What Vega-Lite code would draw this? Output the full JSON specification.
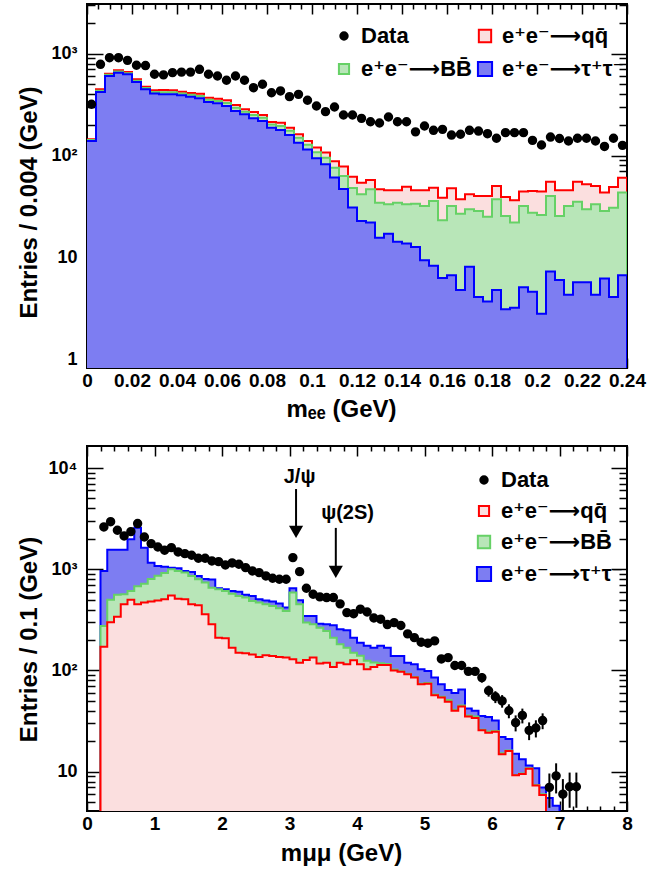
{
"$schema": "https://vega.github.io/schema/vega-lite/v6.json",
"background": "white",
"autosize": {"type": "pad"},
"padding": {"left": 16, "top": 2, "right": 0, "bottom": 0},
"bounds": "flush",
"spacing": 78,
"config": {
  "view": {"stroke": "black", "strokeWidth": 2},
  "axis": {"zindex": 1, "domain": false, "grid": false, "tickColor": "black", "tickWidth": 1.5, "labelFont": "Liberation Sans", "labelFontWeight": "bold", "labelColor": "black", "titleFont": "Liberation Sans", "titleFontWeight": "bold", "titleFontSize": 24, "titleColor": "black", "labelOverlap": false, "labelFlush": false, "labelBound": false},
  "legend": {"labelFont": "Liberation Sans, DejaVu Sans", "labelFontWeight": "bold", "labelFontSize": 22, "labelColor": "black", "labelLimit": 400}
},
"datasets": {
  "top_hist": [
    {"lo":0,"tau":139,"tau_bb":142,"all":145},
    {"lo":0.004,"tau":421,"tau_bb":433,"all":447},
    {"lo":0.008,"tau":604,"tau_bb":620,"all":637},
    {"lo":0.012,"tau":652,"tau_bb":669,"all":687},
    {"lo":0.016,"tau":628,"tau_bb":644,"all":661},
    {"lo":0.02,"tau":527,"tau_bb":543,"all":561},
    {"lo":0.024,"tau":447,"tau_bb":460,"all":474},
    {"lo":0.028,"tau":408,"tau_bb":422,"all":437},
    {"lo":0.032,"tau":399,"tau_bb":419,"all":440},
    {"lo":0.036,"tau":399,"tau_bb":418,"all":437},
    {"lo":0.04,"tau":391,"tau_bb":407,"all":424},
    {"lo":0.044,"tau":379,"tau_bb":395,"all":411},
    {"lo":0.048,"tau":365,"tau_bb":385,"all":405},
    {"lo":0.052,"tau":336,"tau_bb":353,"all":370},
    {"lo":0.056,"tau":326,"tau_bb":344,"all":362},
    {"lo":0.06,"tau":307,"tau_bb":328,"all":349},
    {"lo":0.064,"tau":274,"tau_bb":294,"all":314},
    {"lo":0.068,"tau":254,"tau_bb":270,"all":285},
    {"lo":0.072,"tau":232,"tau_bb":250,"all":268},
    {"lo":0.076,"tau":219,"tau_bb":235,"all":250},
    {"lo":0.08,"tau":188,"tau_bb":202,"all":214},
    {"lo":0.084,"tau":178,"tau_bb":195,"all":210},
    {"lo":0.088,"tau":159,"tau_bb":175,"all":188},
    {"lo":0.092,"tau":134,"tau_bb":150,"all":162},
    {"lo":0.096,"tau":115,"tau_bb":128,"all":139},
    {"lo":0.1,"tau":94,"tau_bb":108,"all":120},
    {"lo":0.104,"tau":82,"tau_bb":95,"all":107},
    {"lo":0.108,"tau":61,"tau_bb":76,"all":88},
    {"lo":0.112,"tau":47,"tau_bb":63,"all":78},
    {"lo":0.116,"tau":31,"tau_bb":48,"all":62},
    {"lo":0.12,"tau":22.8,"tau_bb":41.7,"all":54.2},
    {"lo":0.124,"tau":22,"tau_bb":46.7,"all":57.6},
    {"lo":0.128,"tau":15.6,"tau_bb":34.5,"all":46.7},
    {"lo":0.132,"tau":17.1,"tau_bb":33.3,"all":45.6},
    {"lo":0.136,"tau":14.3,"tau_bb":34.5,"all":45.6},
    {"lo":0.14,"tau":13.7,"tau_bb":33.3,"all":49.5},
    {"lo":0.144,"tau":12.7,"tau_bb":33.7,"all":45.6},
    {"lo":0.148,"tau":9.4,"tau_bb":32,"all":45.6},
    {"lo":0.152,"tau":8.3,"tau_bb":35.8,"all":48.4},
    {"lo":0.156,"tau":6.3,"tau_bb":23.2,"all":38.6},
    {"lo":0.16,"tau":6.7,"tau_bb":32,"all":47.7},
    {"lo":0.164,"tau":4.8,"tau_bb":26.9,"all":37.2},
    {"lo":0.168,"tau":8.1,"tau_bb":29.7,"all":41.7},
    {"lo":0.172,"tau":4.1,"tau_bb":28.6,"all":40.2},
    {"lo":0.176,"tau":3.7,"tau_bb":25.1,"all":40.2},
    {"lo":0.18,"tau":4.8,"tau_bb":37.2,"all":50.4},
    {"lo":0.184,"tau":3.1,"tau_bb":25.5,"all":39.3},
    {"lo":0.188,"tau":3.2,"tau_bb":22,"all":36.4},
    {"lo":0.192,"tau":5.1,"tau_bb":32,"all":44.3},
    {"lo":0.196,"tau":4.6,"tau_bb":27.5,"all":45},
    {"lo":0.2,"tau":2.8,"tau_bb":26.1,"all":44.3},
    {"lo":0.204,"tau":7.3,"tau_bb":40.2,"all":55.5},
    {"lo":0.208,"tau":6,"tau_bb":25.5,"all":45.6},
    {"lo":0.212,"tau":4.3,"tau_bb":32,"all":45.6},
    {"lo":0.216,"tau":5.7,"tau_bb":35.3,"all":55.5},
    {"lo":0.22,"tau":5.7,"tau_bb":29.7,"all":52.2},
    {"lo":0.224,"tau":4.3,"tau_bb":33.3,"all":50.4},
    {"lo":0.228,"tau":6.2,"tau_bb":28.6,"all":43.3},
    {"lo":0.232,"tau":4.1,"tau_bb":30.8,"all":49.2},
    {"lo":0.236,"tau":6.7,"tau_bb":43.3,"all":60.7},
    {"lo":0.24,"tau":0.5,"tau_bb":0.5,"all":0.5}
  ],
  "top_pts": [
    {"m":0.002,"n":319},{"m":0.006,"n":787},{"m":0.01,"n":914},{"m":0.014,"n":914},{"m":0.018,"n":861},
    {"m":0.022,"n":770},{"m":0.026,"n":765},{"m":0.03,"n":628},{"m":0.034,"n":620},{"m":0.038,"n":652},
    {"m":0.042,"n":660},{"m":0.046,"n":660},{"m":0.05,"n":703},{"m":0.054,"n":628},{"m":0.058,"n":604},
    {"m":0.062,"n":549},{"m":0.066,"n":604},{"m":0.07,"n":549},{"m":0.074,"n":464},{"m":0.078,"n":501},
    {"m":0.082,"n":414},{"m":0.086,"n":431},{"m":0.09,"n":379},{"m":0.094,"n":399},{"m":0.098,"n":349},
    {"m":0.102,"n":307},{"m":0.106,"n":270},{"m":0.11,"n":300},{"m":0.114,"n":250},{"m":0.118,"n":250},
    {"m":0.122,"n":232},{"m":0.126,"n":215},{"m":0.13,"n":209},{"m":0.134,"n":239},{"m":0.138,"n":215},
    {"m":0.142,"n":215},{"m":0.146,"n":171},{"m":0.15,"n":195},{"m":0.154,"n":177},{"m":0.158,"n":181},
    {"m":0.162,"n":159},{"m":0.166,"n":162},{"m":0.17,"n":177},{"m":0.174,"n":174},{"m":0.178,"n":164},
    {"m":0.182,"n":148},{"m":0.186,"n":168},{"m":0.19,"n":168},{"m":0.194,"n":168},{"m":0.198,"n":141},
    {"m":0.202,"n":127},{"m":0.206,"n":152},{"m":0.21,"n":147},{"m":0.214,"n":139},{"m":0.218,"n":148},
    {"m":0.222,"n":148},{"m":0.226,"n":139},{"m":0.23,"n":123},{"m":0.234,"n":148},{"m":0.238,"n":126}
  ],
  "bot_hist": [
    {"lo":0.1,"qq":0.5,"qq_bb":0.5,"all":0.5},
    {"lo":0.2,"qq":172,"qq_bb":275,"all":962},
    {"lo":0.3,"qq":300,"qq_bb":500,"all":1560},
    {"lo":0.4,"qq":340,"qq_bb":560,"all":1560},
    {"lo":0.5,"qq":450,"qq_bb":565,"all":1560},
    {"lo":0.6,"qq":500,"qq_bb":610,"all":1980},
    {"lo":0.7,"qq":450,"qq_bb":680,"all":2576},
    {"lo":0.8,"qq":468,"qq_bb":720,"all":1634},
    {"lo":0.9,"qq":480,"qq_bb":800,"all":1162},
    {"lo":1.0,"qq":490,"qq_bb":860,"all":1078},
    {"lo":1.1,"qq":506,"qq_bb":920,"all":1060},
    {"lo":1.2,"qq":550,"qq_bb":1000,"all":1037},
    {"lo":1.3,"qq":512,"qq_bb":962,"all":1020},
    {"lo":1.4,"qq":505,"qq_bb":926,"all":962},
    {"lo":1.5,"qq":451,"qq_bb":859,"all":940},
    {"lo":1.6,"qq":440,"qq_bb":796,"all":859},
    {"lo":1.7,"qq":359,"qq_bb":738,"all":800},
    {"lo":1.8,"qq":286,"qq_bb":658,"all":790},
    {"lo":1.9,"qq":211,"qq_bb":634,"all":650},
    {"lo":2.0,"qq":208,"qq_bb":610,"all":634},
    {"lo":2.1,"qq":168,"qq_bb":574,"all":610},
    {"lo":2.2,"qq":150,"qq_bb":545,"all":600},
    {"lo":2.3,"qq":148,"qq_bb":525,"all":560},
    {"lo":2.4,"qq":144,"qq_bb":486,"all":545},
    {"lo":2.5,"qq":136,"qq_bb":468,"all":506},
    {"lo":2.6,"qq":141,"qq_bb":451,"all":490},
    {"lo":2.7,"qq":139,"qq_bb":434,"all":480},
    {"lo":2.8,"qq":136,"qq_bb":412,"all":460},
    {"lo":2.9,"qq":134,"qq_bb":387,"all":420},
    {"lo":3.0,"qq":129,"qq_bb":588,"all":649},
    {"lo":3.1,"qq":119,"qq_bb":451,"all":494},
    {"lo":3.2,"qq":127,"qq_bb":297,"all":346},
    {"lo":3.3,"qq":134,"qq_bb":286,"all":346},
    {"lo":3.4,"qq":117,"qq_bb":265,"all":290},
    {"lo":3.5,"qq":119,"qq_bb":245,"all":286},
    {"lo":3.6,"qq":108,"qq_bb":211,"all":280},
    {"lo":3.7,"qq":119,"qq_bb":182,"all":255},
    {"lo":3.8,"qq":115,"qq_bb":168,"all":250},
    {"lo":3.9,"qq":126,"qq_bb":150,"all":211},
    {"lo":4.0,"qq":115,"qq_bb":140,"all":188},
    {"lo":4.1,"qq":103,"qq_bb":125,"all":175},
    {"lo":4.2,"qq":108,"qq_bb":120,"all":168},
    {"lo":4.3,"qq":113,"qq_bb":118,"all":175},
    {"lo":4.4,"qq":113,"qq_bb":116,"all":168},
    {"lo":4.5,"qq":100,"qq_bb":102,"all":139},
    {"lo":4.6,"qq":97,"qq_bb":98,"all":139},
    {"lo":4.7,"qq":92,"qq_bb":93,"all":119},
    {"lo":4.8,"qq":85,"qq_bb":86,"all":115},
    {"lo":4.9,"qq":73,"qq_bb":74,"all":103},
    {"lo":5.0,"qq":74,"qq_bb":75,"all":99},
    {"lo":5.1,"qq":57,"qq_bb":58,"all":85},
    {"lo":5.2,"qq":54,"qq_bb":55,"all":73},
    {"lo":5.3,"qq":49,"qq_bb":51,"all":64},
    {"lo":5.4,"qq":40,"qq_bb":41,"all":60},
    {"lo":5.5,"qq":44,"qq_bb":45,"all":65},
    {"lo":5.6,"qq":35,"qq_bb":36,"all":42},
    {"lo":5.7,"qq":34,"qq_bb":35,"all":40},
    {"lo":5.8,"qq":25.6,"qq_bb":26,"all":35.5},
    {"lo":5.9,"qq":24.3,"qq_bb":25,"all":34.7},
    {"lo":6.0,"qq":24.8,"qq_bb":25.2,"all":32},
    {"lo":6.1,"qq":14.9,"qq_bb":15.2,"all":22},
    {"lo":6.2,"qq":16,"qq_bb":16.2,"all":21},
    {"lo":6.3,"qq":9.2,"qq_bb":9.3,"all":15},
    {"lo":6.4,"qq":9.5,"qq_bb":9.6,"all":13.3},
    {"lo":6.5,"qq":10.7,"qq_bb":10.8,"all":11.5},
    {"lo":6.6,"qq":7.3,"qq_bb":7.4,"all":10.8},
    {"lo":6.7,"qq":5.9,"qq_bb":6,"all":7},
    {"lo":6.8,"qq":0.5,"qq_bb":0.5,"all":5.5},
    {"lo":6.9,"qq":0.5,"qq_bb":0.5,"all":4.6},
    {"lo":7.0,"qq":0.5,"qq_bb":0.5,"all":0.5}
  ],
  "bot_pts": [
    {"m":0.25,"n":2618},{"m":0.35,"n":2951},{"m":0.45,"n":2427},{"m":0.55,"n":2133},{"m":0.65,"n":2355},
    {"m":0.75,"n":2827},{"m":0.85,"n":2084},{"m":0.95,"n":1791},{"m":1.05,"n":1660},{"m":1.15,"n":1541},
    {"m":1.25,"n":1636},{"m":1.35,"n":1483},{"m":1.45,"n":1426},{"m":1.55,"n":1374},{"m":1.65,"n":1284},
    {"m":1.75,"n":1284},{"m":1.85,"n":1208},{"m":1.95,"n":1189},{"m":2.05,"n":1102},{"m":2.15,"n":1154},
    {"m":2.25,"n":1120},{"m":2.35,"n":1037},{"m":2.45,"n":962},{"m":2.55,"n":926},{"m":2.65,"n":859},
    {"m":2.75,"n":815},{"m":2.85,"n":796},{"m":2.95,"n":796},{"m":3.05,"n":1303},{"m":3.15,"n":947},
    {"m":3.25,"n":649},{"m":3.35,"n":566},{"m":3.45,"n":533},{"m":3.55,"n":525},{"m":3.65,"n":525},
    {"m":3.75,"n":455},{"m":3.85,"n":373},{"m":3.95,"n":364},{"m":4.05,"n":403},{"m":4.15,"n":378},
    {"m":4.25,"n":330},{"m":4.35,"n":321},{"m":4.45,"n":284},{"m":4.55,"n":297},{"m":4.65,"n":278},
    {"m":4.75,"n":230},{"m":4.85,"n":211},{"m":4.95,"n":190},{"m":5.05,"n":186},{"m":5.15,"n":196},
    {"m":5.25,"n":130},{"m":5.35,"n":134},{"m":5.45,"n":112},{"m":5.55,"n":112},{"m":5.65,"n":98},
    {"m":5.75,"n":98},
    {"m":5.85,"n":85,"lo":75.8,"hi":94.2},
    {"m":5.95,"n":63,"lo":55.1,"hi":70.9},
    {"m":6.05,"n":55,"lo":47.6,"hi":62.4},
    {"m":6.15,"n":50,"lo":42.9,"hi":57.1},
    {"m":6.25,"n":40,"lo":33.7,"hi":46.3},
    {"m":6.35,"n":30.5,"lo":25,"hi":36},
    {"m":6.45,"n":36,"lo":30,"hi":42},
    {"m":6.55,"n":25.6,"lo":20.5,"hi":30.7},
    {"m":6.65,"n":27,"lo":21.8,"hi":32.2},
    {"m":6.75,"n":32,"lo":26.3,"hi":37.7},
    {"m":6.85,"n":7,"lo":4.4,"hi":9.6},
    {"m":6.95,"n":9.1,"lo":6.1,"hi":12.1},
    {"m":7.05,"n":6,"lo":3.55,"hi":8.45},
    {"m":7.15,"n":7.1,"lo":4.4,"hi":9.8},
    {"m":7.25,"n":7.1,"lo":4.4,"hi":9.8}
  ],
  "annot": [
    {"label":"J/ψ","x":3.097,"ytop":6200,"ytri":2340,"tx":3.15,"ty":8200},
    {"label":"ψ(2S)","x":3.686,"ytop":2560,"ytri":940,"tx":3.86,"ty":3600}
  ]
},
"resolve": {"scale": {"x": "independent", "y": "independent", "fill": "independent", "stroke": "independent", "shape": "independent", "size": "independent"}, "legend": {"fill": "independent", "stroke": "independent", "shape": "independent", "size": "independent"}, "axis": {"x": "independent", "y": "independent"}},
"vconcat": [
{
  "width": 540, "height": 364,
  "resolve": {"axis": {"x": "independent", "y": "independent"}},
  "layer": [
  {"layer": [
    {"data": {"name": "top_hist"}, "mark": {"type": "area", "interpolate": "step-after", "fill": "#fbdfdf", "clip": true},
     "encoding": {
       "x": {"field": "lo", "type": "quantitative", "scale": {"domain": [0, 0.24], "nice": false, "zero": false},
         "axis": {"orient": "bottom", "labelOverlap": false,
           "values": [0,0.02,0.04,0.06,0.08,0.1,0.12,0.14,0.16,0.18,0.2,0.22,0.24],
           "labelExpr": "format(datum.value, '~g')",
           "labelFontSize": 19, "tickSize": -10, "labelPadding": 13,
           "title": "mₑₑ (GeV)", "titleX": 254, "titleY": 48, "titleAlign": "center", "titleBaseline": "alphabetic"}},
       "y": {"field": "all", "type": "quantitative", "scale": {"type": "log", "domain": [0.822, 3076], "nice": false},
         "axis": {"orient": "left", "labelOverlap": false,
           "values": [1,10,100,1000],
           "labelExpr": "datum.value === 1 ? '1' : datum.value === 10 ? '10' : datum.value === 100 ? '10²' : '10³'",
           "labelFontSize": 18, "tickSize": -16, "labelPadding": 26,
           "title": "Entries / 0.004 (GeV)", "titleX": -50.5, "titleY": 198, "titleAngle": -90, "titleAlign": "center", "titleBaseline": "alphabetic"}},
       "y2": {"datum": 0.822}
     }},
    {"data": {"name": "top_hist"}, "mark": {"type": "line", "interpolate": "step-after", "stroke": "#ff0000", "strokeWidth": 2, "clip": true},
     "encoding": {"x": {"field": "lo", "type": "quantitative", "scale": {"domain": [0, 0.24], "nice": false, "zero": false}},
                  "y": {"field": "all", "type": "quantitative", "scale": {"type": "log", "domain": [0.822, 3076], "nice": false}}}},
    {"data": {"name": "top_hist"}, "mark": {"type": "area", "interpolate": "step-after", "fill": "#b8e6b8", "clip": true},
     "encoding": {"x": {"field": "lo", "type": "quantitative", "scale": {"domain": [0, 0.24], "nice": false, "zero": false}},
                  "y": {"field": "tau_bb", "type": "quantitative", "scale": {"type": "log", "domain": [0.822, 3076], "nice": false}},
                  "y2": {"datum": 0.822}}},
    {"data": {"name": "top_hist"}, "mark": {"type": "line", "interpolate": "step-after", "stroke": "#66d166", "strokeWidth": 2, "clip": true},
     "encoding": {"x": {"field": "lo", "type": "quantitative", "scale": {"domain": [0, 0.24], "nice": false, "zero": false}},
                  "y": {"field": "tau_bb", "type": "quantitative", "scale": {"type": "log", "domain": [0.822, 3076], "nice": false}}}},
    {"data": {"name": "top_hist"}, "mark": {"type": "area", "interpolate": "step-after", "fill": "#7d7df2", "clip": true},
     "encoding": {"x": {"field": "lo", "type": "quantitative", "scale": {"domain": [0, 0.24], "nice": false, "zero": false}},
                  "y": {"field": "tau", "type": "quantitative", "scale": {"type": "log", "domain": [0.822, 3076], "nice": false}},
                  "y2": {"datum": 0.822}}},
    {"data": {"name": "top_hist"}, "mark": {"type": "line", "interpolate": "step-after", "stroke": "#0000ff", "strokeWidth": 2, "clip": true},
     "encoding": {"x": {"field": "lo", "type": "quantitative", "scale": {"domain": [0, 0.24], "nice": false, "zero": false}},
                  "y": {"field": "tau", "type": "quantitative", "scale": {"type": "log", "domain": [0.822, 3076], "nice": false}}}},
    {"data": {"name": "top_pts"}, "mark": {"type": "point", "filled": true, "opacity": 1, "strokeWidth": 2},
     "encoding": {"x": {"field": "m", "type": "quantitative", "scale": {"domain": [0, 0.24], "nice": false, "zero": false}},
                  "y": {"field": "n", "type": "quantitative", "scale": {"type": "log", "domain": [0.822, 3076], "nice": false}},
                  "fill": {"datum": "Data", "type": "nominal",
                    "scale": {"domain": ["Data", "e⁺e⁻⟶BB̄", "e⁺e⁻⟶qq̄", "e⁺e⁻⟶τ⁺τ⁻"], "range": ["#000000", "#b8e6b8", "#fbdfdf", "#7d7df2"]},
                    "legend": {"title": null, "orient": "none", "legendX": 246, "legendY": 21, "columns": 2, "columnPadding": 0, "rowPadding": 10, "symbolStrokeWidth": 2, "labelOffset": 6, "padding": 0}},
                  "stroke": {"datum": "Data", "type": "nominal",
                    "scale": {"domain": ["Data", "e⁺e⁻⟶BB̄", "e⁺e⁻⟶qq̄", "e⁺e⁻⟶τ⁺τ⁻"], "range": ["#000000", "#66d166", "#ff0000", "#0000ff"]},
                    "legend": {"title": null, "orient": "none", "legendX": 246, "legendY": 21, "columns": 2, "columnPadding": 0, "rowPadding": 10, "symbolStrokeWidth": 2, "labelOffset": 6, "padding": 0}},
                  "shape": {"datum": "Data", "type": "nominal",
                    "scale": {"domain": ["Data", "e⁺e⁻⟶BB̄", "e⁺e⁻⟶qq̄", "e⁺e⁻⟶τ⁺τ⁻"], "range": ["circle", "square", "square", "square"]},
                    "legend": {"title": null, "orient": "none", "legendX": 246, "legendY": 21, "columns": 2, "columnPadding": 0, "rowPadding": 10, "symbolStrokeWidth": 2, "labelOffset": 6, "padding": 0}},
                  "size": {"datum": "Data", "type": "nominal",
                    "scale": {"domain": ["Data", "e⁺e⁻⟶BB̄", "e⁺e⁻⟶qq̄", "e⁺e⁻⟶τ⁺τ⁻"], "range": [55, 200, 200, 200]},
                    "legend": {"title": null, "orient": "none", "legendX": 246, "legendY": 21, "columns": 2, "columnPadding": 0, "rowPadding": 10, "symbolStrokeWidth": 2, "labelOffset": 6, "padding": 0}}}}
  ]},
  {"data": {"name": "top_pts"}, "mark": {"type": "point", "opacity": 0},
   "encoding": {
     "x": {"field": "m", "type": "quantitative", "scale": {"domain": [0, 0.24], "nice": false, "zero": false},
       "axis": {"orient": "top", "labels": false, "title": null, "tickSize": -10,
         "values": [0,0.02,0.04,0.06,0.08,0.1,0.12,0.14,0.16,0.18,0.2,0.22,0.24]}},
     "y": {"field": "n", "type": "quantitative", "scale": {"type": "log", "domain": [0.822, 3076], "nice": false},
       "axis": {"orient": "right", "labels": false, "title": null, "tickSize": -16, "values": [1,10,100,1000]}}
   }},
  {"data": {"name": "top_pts"}, "mark": {"type": "point", "opacity": 0},
   "encoding": {
     "x": {"field": "m", "type": "quantitative", "scale": {"domain": [0, 0.24], "nice": false, "zero": false},
       "axis": {"orient": "bottom", "labels": false, "title": null, "tickSize": -5,
         "values": [0.005,0.01,0.015,0.025,0.03,0.035,0.045,0.05,0.055,0.065,0.07,0.075,0.085,0.09,0.095,0.105,0.11,0.115,0.125,0.13,0.135,0.145,0.15,0.155,0.165,0.17,0.175,0.185,0.19,0.195,0.205,0.21,0.215,0.225,0.23,0.235]}},
     "y": {"field": "n", "type": "quantitative", "scale": {"type": "log", "domain": [0.822, 3076], "nice": false},
       "axis": {"orient": "left", "labels": false, "title": null, "tickSize": -8,
         "values": [2,3,4,5,6,7,8,9,20,30,40,50,60,70,80,90,200,300,400,500,600,700,800,900,2000,3000]}}
   }},
  {"data": {"name": "top_pts"}, "mark": {"type": "point", "opacity": 0},
   "encoding": {
     "x": {"field": "m", "type": "quantitative", "scale": {"domain": [0, 0.24], "nice": false, "zero": false},
       "axis": {"orient": "top", "labels": false, "title": null, "tickSize": -5,
         "values": [0.005,0.01,0.015,0.025,0.03,0.035,0.045,0.05,0.055,0.065,0.07,0.075,0.085,0.09,0.095,0.105,0.11,0.115,0.125,0.13,0.135,0.145,0.15,0.155,0.165,0.17,0.175,0.185,0.19,0.195,0.205,0.21,0.215,0.225,0.23,0.235]}},
     "y": {"field": "n", "type": "quantitative", "scale": {"type": "log", "domain": [0.822, 3076], "nice": false},
       "axis": {"orient": "right", "labels": false, "title": null, "tickSize": -8,
         "values": [2,3,4,5,6,7,8,9,20,30,40,50,60,70,80,90,200,300,400,500,600,700,800,900,2000,3000]}}
   }}
  ]
},
{
  "width": 540, "height": 365,
  "resolve": {"axis": {"x": "independent", "y": "independent"}},
  "layer": [
  {"layer": [
    {"data": {"name": "bot_hist"}, "mark": {"type": "area", "interpolate": "step-after", "fill": "#7d7df2", "clip": true},
     "encoding": {
       "x": {"field": "lo", "type": "quantitative", "scale": {"domain": [0, 8], "nice": false, "zero": false},
         "axis": {"orient": "bottom", "labelOverlap": false,
           "values": [0,1,2,3,4,5,6,7,8], "format": "d",
           "labelFontSize": 19, "tickSize": -10, "labelPadding": 13,
           "title": "mμμ (GeV)", "titleX": 254, "titleY": 49, "titleAlign": "center", "titleBaseline": "alphabetic"}},
       "y": {"field": "all", "type": "quantitative", "scale": {"type": "log", "domain": [4.09, 16500], "nice": false},
         "axis": {"orient": "left", "labelOverlap": false,
           "values": [10,100,1000,10000],
           "labelExpr": "datum.value === 10 ? '10' : datum.value === 100 ? '10²' : datum.value === 1000 ? '10³' : '10⁴'",
           "labelFontSize": 18, "tickSize": -16, "labelPadding": 26,
           "title": "Entries / 0.1 (GeV)", "titleX": -50.5, "titleY": 193, "titleAngle": -90, "titleAlign": "center", "titleBaseline": "alphabetic"}},
       "y2": {"datum": 4.09}
     }},
    {"data": {"name": "bot_hist"}, "mark": {"type": "line", "interpolate": "step-after", "stroke": "#0000ff", "strokeWidth": 2, "clip": true},
     "encoding": {"x": {"field": "lo", "type": "quantitative", "scale": {"domain": [0, 8], "nice": false, "zero": false}},
                  "y": {"field": "all", "type": "quantitative", "scale": {"type": "log", "domain": [4.09, 16500], "nice": false}}}},
    {"data": {"name": "bot_hist"}, "mark": {"type": "area", "interpolate": "step-after", "fill": "#b8e6b8", "clip": true},
     "encoding": {"x": {"field": "lo", "type": "quantitative", "scale": {"domain": [0, 8], "nice": false, "zero": false}},
                  "y": {"field": "qq_bb", "type": "quantitative", "scale": {"type": "log", "domain": [4.09, 16500], "nice": false}},
                  "y2": {"datum": 4.09}}},
    {"data": {"name": "bot_hist"}, "mark": {"type": "line", "interpolate": "step-after", "stroke": "#66d166", "strokeWidth": 2, "clip": true},
     "encoding": {"x": {"field": "lo", "type": "quantitative", "scale": {"domain": [0, 8], "nice": false, "zero": false}},
                  "y": {"field": "qq_bb", "type": "quantitative", "scale": {"type": "log", "domain": [4.09, 16500], "nice": false}}}},
    {"data": {"name": "bot_hist"}, "mark": {"type": "area", "interpolate": "step-after", "fill": "#fbdfdf", "clip": true},
     "encoding": {"x": {"field": "lo", "type": "quantitative", "scale": {"domain": [0, 8], "nice": false, "zero": false}},
                  "y": {"field": "qq", "type": "quantitative", "scale": {"type": "log", "domain": [4.09, 16500], "nice": false}},
                  "y2": {"datum": 4.09}}},
    {"data": {"name": "bot_hist"}, "mark": {"type": "line", "interpolate": "step-after", "stroke": "#ff0000", "strokeWidth": 2, "clip": true},
     "encoding": {"x": {"field": "lo", "type": "quantitative", "scale": {"domain": [0, 8], "nice": false, "zero": false}},
                  "y": {"field": "qq", "type": "quantitative", "scale": {"type": "log", "domain": [4.09, 16500], "nice": false}}}},
    {"data": {"name": "bot_pts"}, "transform": [{"filter": "isValid(datum.lo)"}], "mark": {"type": "rule", "strokeWidth": 2, "color": "black", "clip": true},
     "encoding": {"x": {"field": "m", "type": "quantitative", "scale": {"domain": [0, 8], "nice": false, "zero": false}},
                  "y": {"field": "lo", "type": "quantitative", "scale": {"type": "log", "domain": [4.09, 16500], "nice": false}},
                  "y2": {"field": "hi"}}},
    {"data": {"name": "bot_pts"}, "mark": {"type": "point", "filled": true, "opacity": 1, "strokeWidth": 2},
     "encoding": {"x": {"field": "m", "type": "quantitative", "scale": {"domain": [0, 8], "nice": false, "zero": false}},
                  "y": {"field": "n", "type": "quantitative", "scale": {"type": "log", "domain": [4.09, 16500], "nice": false}},
                  "fill": {"datum": "Data", "type": "nominal",
                    "scale": {"domain": ["Data", "e⁺e⁻⟶qq̄", "e⁺e⁻⟶BB̄", "e⁺e⁻⟶τ⁺τ⁻"], "range": ["#000000", "#fbdfdf", "#b8e6b8", "#7d7df2"]},
                    "legend": {"title": null, "orient": "none", "legendX": 386, "legendY": 23, "columns": 1, "rowPadding": 9, "symbolStrokeWidth": 2, "labelOffset": 6, "padding": 0}},
                  "stroke": {"datum": "Data", "type": "nominal",
                    "scale": {"domain": ["Data", "e⁺e⁻⟶qq̄", "e⁺e⁻⟶BB̄", "e⁺e⁻⟶τ⁺τ⁻"], "range": ["#000000", "#ff0000", "#66d166", "#0000ff"]},
                    "legend": {"title": null, "orient": "none", "legendX": 386, "legendY": 23, "columns": 1, "rowPadding": 9, "symbolStrokeWidth": 2, "labelOffset": 6, "padding": 0}},
                  "shape": {"datum": "Data", "type": "nominal",
                    "scale": {"domain": ["Data", "e⁺e⁻⟶qq̄", "e⁺e⁻⟶BB̄", "e⁺e⁻⟶τ⁺τ⁻"], "range": ["circle", "square", "square", "square"]},
                    "legend": {"title": null, "orient": "none", "legendX": 386, "legendY": 23, "columns": 1, "rowPadding": 9, "symbolStrokeWidth": 2, "labelOffset": 6, "padding": 0}},
                  "size": {"datum": "Data", "type": "nominal",
                    "scale": {"domain": ["Data", "e⁺e⁻⟶qq̄", "e⁺e⁻⟶BB̄", "e⁺e⁻⟶τ⁺τ⁻"], "range": [55, 200, 200, 200]},
                    "legend": {"title": null, "orient": "none", "legendX": 386, "legendY": 23, "columns": 1, "rowPadding": 9, "symbolStrokeWidth": 2, "labelOffset": 6, "padding": 0}}}},
    {"data": {"name": "annot"}, "mark": {"type": "rule", "strokeWidth": 2, "color": "black"},
     "encoding": {"x": {"field": "x", "type": "quantitative", "scale": {"domain": [0, 8], "nice": false, "zero": false}},
                  "y": {"field": "ytop", "type": "quantitative", "scale": {"type": "log", "domain": [4.09, 16500], "nice": false}},
                  "y2": {"field": "ytri"}}},
    {"data": {"name": "annot"}, "mark": {"type": "point", "shape": "triangle-down", "filled": true, "size": 200, "opacity": 1, "color": "black"},
     "encoding": {"x": {"field": "x", "type": "quantitative", "scale": {"domain": [0, 8], "nice": false, "zero": false}},
                  "y": {"field": "ytri", "type": "quantitative", "scale": {"type": "log", "domain": [4.09, 16500], "nice": false}}}},
    {"data": {"name": "annot"}, "mark": {"type": "text", "font": "Liberation Sans", "fontWeight": "bold", "fontSize": 20, "align": "center", "baseline": "middle", "color": "black"},
     "encoding": {"x": {"field": "tx", "type": "quantitative", "scale": {"domain": [0, 8], "nice": false, "zero": false}},
                  "y": {"field": "ty", "type": "quantitative", "scale": {"type": "log", "domain": [4.09, 16500], "nice": false}},
                  "text": {"field": "label"}}}
  ]},
  {"data": {"name": "bot_pts"}, "mark": {"type": "point", "opacity": 0},
   "encoding": {
     "x": {"field": "m", "type": "quantitative", "scale": {"domain": [0, 8], "nice": false, "zero": false},
       "axis": {"orient": "top", "labels": false, "title": null, "tickSize": -10, "values": [0,1,2,3,4,5,6,7,8]}},
     "y": {"field": "n", "type": "quantitative", "scale": {"type": "log", "domain": [4.09, 16500], "nice": false},
       "axis": {"orient": "right", "labels": false, "title": null, "tickSize": -16, "values": [10,100,1000,10000]}}
   }},
  {"data": {"name": "bot_pts"}, "mark": {"type": "point", "opacity": 0},
   "encoding": {
     "x": {"field": "m", "type": "quantitative", "scale": {"domain": [0, 8], "nice": false, "zero": false},
       "axis": {"orient": "bottom", "labels": false, "title": null, "tickSize": -5,
         "values": [0.2,0.4,0.6,0.8,1.2,1.4,1.6,1.8,2.2,2.4,2.6,2.8,3.2,3.4,3.6,3.8,4.2,4.4,4.6,4.8,5.2,5.4,5.6,5.8,6.2,6.4,6.6,6.8,7.2,7.4,7.6,7.8]}},
     "y": {"field": "n", "type": "quantitative", "scale": {"type": "log", "domain": [4.09, 16500], "nice": false},
       "axis": {"orient": "left", "labels": false, "title": null, "tickSize": -8,
         "values": [5,6,7,8,9,20,30,40,50,60,70,80,90,200,300,400,500,600,700,800,900,2000,3000,4000,5000,6000,7000,8000,9000]}}
   }},
  {"data": {"name": "bot_pts"}, "mark": {"type": "point", "opacity": 0},
   "encoding": {
     "x": {"field": "m", "type": "quantitative", "scale": {"domain": [0, 8], "nice": false, "zero": false},
       "axis": {"orient": "top", "labels": false, "title": null, "tickSize": -5,
         "values": [0.2,0.4,0.6,0.8,1.2,1.4,1.6,1.8,2.2,2.4,2.6,2.8,3.2,3.4,3.6,3.8,4.2,4.4,4.6,4.8,5.2,5.4,5.6,5.8,6.2,6.4,6.6,6.8,7.2,7.4,7.6,7.8]}},
     "y": {"field": "n", "type": "quantitative", "scale": {"type": "log", "domain": [4.09, 16500], "nice": false},
       "axis": {"orient": "right", "labels": false, "title": null, "tickSize": -8,
         "values": [5,6,7,8,9,20,30,40,50,60,70,80,90,200,300,400,500,600,700,800,900,2000,3000,4000,5000,6000,7000,8000,9000]}}
   }}
  ]
}
]
}
